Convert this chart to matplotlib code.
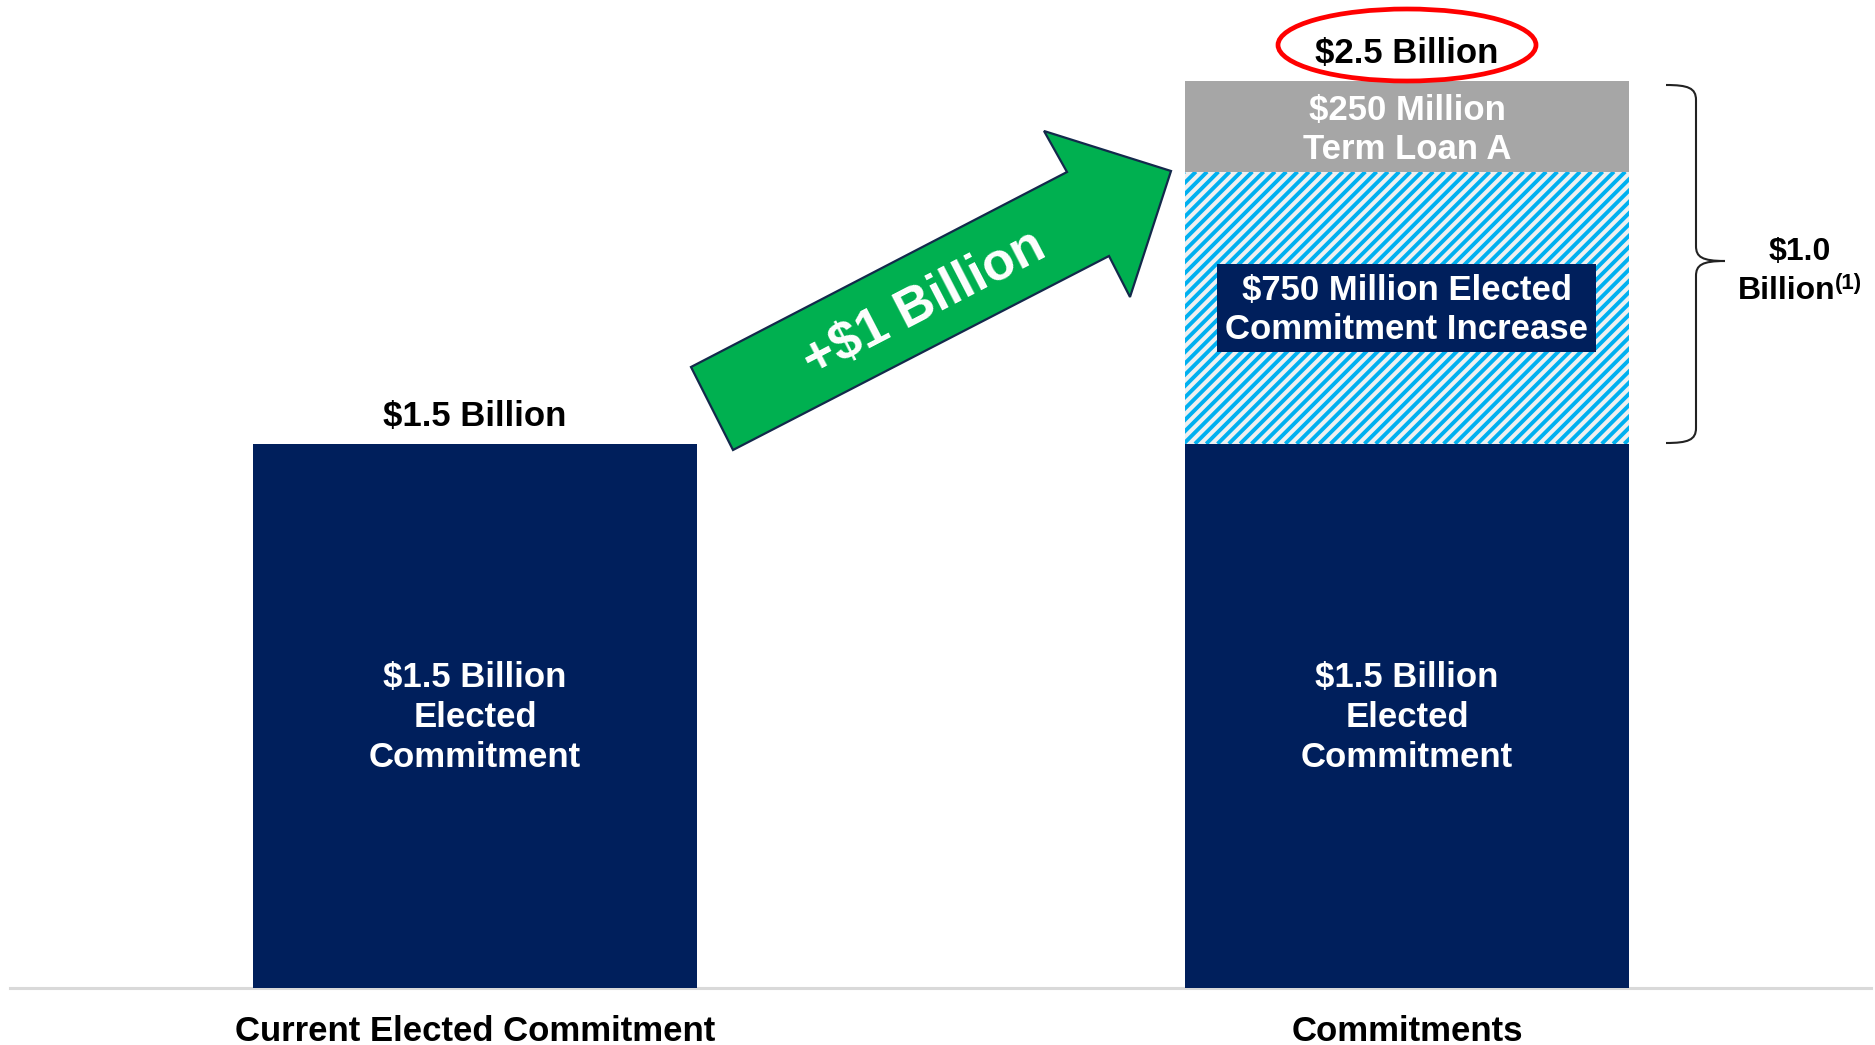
import matplotlib
matplotlib.use("Agg")
import numpy as np
import matplotlib.pyplot as plt
from matplotlib.patches import Polygon, Ellipse, Rectangle, PathPatch
from matplotlib.path import Path
from matplotlib.collections import LineCollection

plt.rcParams['font.family'] = ['Liberation Sans', 'DejaVu Sans']
plt.rcParams['font.weight'] = 'bold'

# ---------------- data ----------------
categories = ["Current Elected Commitment", "Commitments"]
elected = [1.5, 1.5]          # $B, elected commitment
increase = [0.0, 0.75]        # $B, elected commitment increase
term_loan = [0.0, 0.25]       # $B, term loan A
elected_labels = ["$1.5 Billion\nElected\nCommitment", "$1.5 Billion\nElected\nCommitment"]
total_labels = ["$1.5 Billion", "$2.5 Billion"]
increase_label = "$750 Million Elected\nCommitment Increase"
term_label = "$250 Million\nTerm Loan A"
arrow_label = "+$1 Billion"

NAVY = "#001F5C"
CYAN = "#00B0F0"
HATCH_BG = "#F0F0F0"
GRAY = "#A6A6A6"
GREEN = "#00B050"

W, H = 1875, 1045
fig = plt.figure(figsize=(W / 100, H / 100), dpi=100)

# data axes spanning the whole figure (y=0 at pixel 988, 362.8 px per $1B)
ax = fig.add_axes([0, 0, 1, 1])
ppu = 362.8
ax.set_ylim(-(H - 988) / ppu, 988 / ppu)
xppu = 932.0
ax.set_xlim(-475 / xppu, (W - 475) / xppu)
ax.axis('off')

x = list(range(len(categories)))
bw = 443.5 / xppu

ax.axhline(0, xmin=10 / W, xmax=1871 / W, color="#D9D9D9", lw=2.2, zorder=1)

ax.bar(x, elected, width=bw, color=NAVY, linewidth=0, zorder=2)
inc_bars = ax.bar(x, increase, width=bw, bottom=elected, facecolor=HATCH_BG,
                  edgecolor='none', linewidth=0, zorder=2)
bottoms2 = [e + i for e, i in zip(elected, increase)]
ax.bar(x, term_loan, width=bw, bottom=bottoms2, color=GRAY, linewidth=0, zorder=2)

fs = 25
for xi, e in zip(x, elected):
    ax.text(xi, e / 2 - 0.005, elected_labels[xi], ha='center', va='center',
            color='white', fontsize=fs, fontweight='bold', linespacing=1.26, zorder=5)

totals = [e + i + t for e, i, t in zip(elected, increase, term_loan)]
for xi, tot in zip(x, totals):
    ax.text(xi, tot + 0.03, total_labels[xi], ha='center', va='bottom',
            color='black', fontsize=fs, fontweight='bold', zorder=5)

for xi, c in zip(x, categories):
    ax.text(xi, -0.12, c, ha='center', va='center', color='black',
            fontsize=fs, fontweight='bold')

# term loan label
ax.text(1, bottoms2[1] + term_loan[1] / 2 - 0.01, term_label, ha='center', va='center',
        color='white', fontsize=fs, fontweight='bold', linespacing=1.2, zorder=5)

# ---------------- decoration overlay in pixel coordinates ----------------
px = fig.add_axes([0, 0, 1, 1], facecolor='none')
px.set_xlim(0, W)
px.set_ylim(H, 0)
px.axis('off')

# diagonal stripes for the increase segment, clipped to its bar
fig.canvas.draw()
for bar in inc_bars:
    if bar.get_height() <= 0:
        continue
    bb = bar.get_window_extent()
    x0, x1 = bb.x0, bb.x1
    y0, y1 = H - bb.y1, H - bb.y0   # overlay y is top-down
    span = (y1 - y0)
    starts = np.arange(x0 - span - 12, x1 + 12, 11.3)
    segs = [[(s, y1), (s + span, y0)] for s in starts]
    lc = LineCollection(segs, colors=CYAN, linewidths=2.8, zorder=2.5)
    px.add_collection(lc)
    lc.set_clip_path(bar)

# increase label box
px.add_patch(Rectangle((1217, 264), 379, 88, facecolor=NAVY, edgecolor='none', zorder=4))
px.text(1406.5, 310, increase_label, ha='center', va='center', color='white',
        fontsize=fs, fontweight='bold', linespacing=1.22, zorder=5)

# ellipse around total
px.add_patch(Ellipse((1407, 45), 258, 72, facecolor='none', edgecolor='#FF0000', lw=3.4, zorder=6))

# green arrow
arrow_pts = [(691, 367), (733, 450), (1109, 256), (1130, 297), (1171, 171),
             (1044, 131), (1067, 172)]
px.add_patch(Polygon(arrow_pts, closed=True, facecolor=GREEN, edgecolor="#13294B",
                     lw=1.6, zorder=3))
px.text(924, 304, arrow_label, rotation=27.4, rotation_mode='anchor', ha='center',
        va='center', color='white', fontsize=38, fontweight='bold', zorder=4)

# brace
verts = [(1666, 85), (1688, 85), (1696, 88), (1696, 100),
         (1696, 246),
         (1696, 257), (1702, 261), (1725, 261),
         (1702, 261), (1696, 265), (1696, 276),
         (1696, 428),
         (1696, 440), (1688, 443), (1666, 443)]
codes = [Path.MOVETO, Path.CURVE4, Path.CURVE4, Path.CURVE4,
         Path.LINETO,
         Path.CURVE4, Path.CURVE4, Path.CURVE4,
         Path.CURVE4, Path.CURVE4, Path.CURVE4,
         Path.LINETO,
         Path.CURVE4, Path.CURVE4, Path.CURVE4]
px.add_patch(PathPatch(Path(verts, codes), facecolor='none', edgecolor='#222222', lw=1.5))

px.text(1800, 252, "$1.0", ha='center', va='center', color='black', fontsize=23, fontweight='bold')
px.text(1835, 291, "Billion", ha='right', va='center', color='black', fontsize=23, fontweight='bold')
px.text(1835, 283, "(1)", ha='left', va='center', color='black', fontsize=16, fontweight='bold')

fig.savefig("out.png", dpi=100)
